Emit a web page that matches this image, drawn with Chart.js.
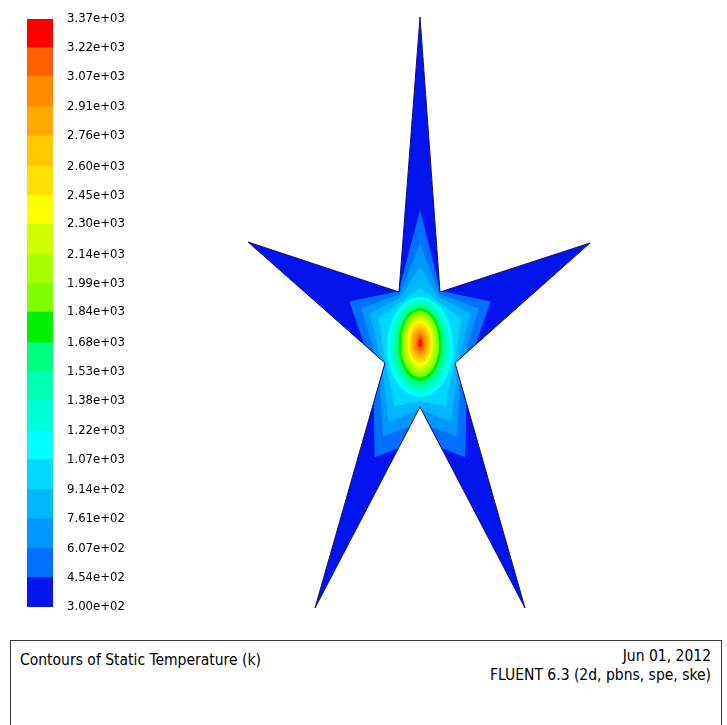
<!DOCTYPE html>
<html>
<head>
<meta charset="utf-8">
<script src="https://cdn.jsdelivr.net/npm/chart.js@4.4.1/dist/chart.umd.min.js"></script>
<style>
body{margin:0;background:#fff;width:727px;height:725px;overflow:hidden;position:relative;
  font-family:'DejaVu Sans Condensed','Liberation Sans Narrow','DejaVu Sans',sans-serif;color:#000}
#bar{position:absolute;left:27px;top:9px}
#plot{position:absolute;left:130px;top:0}
#info{position:absolute;left:10px;top:640px;width:712px;height:100px;border:1.5px solid #3a3a3a;box-sizing:border-box}
#title{position:absolute;left:9px;top:10px;font-size:15.5px}
#stamp{position:absolute;right:10px;top:6px;font-size:15.5px;text-align:right;line-height:19px}
</style>
</head>
<body>
<canvas id="bar" width="106" height="608"></canvas>
<canvas id="plot" width="597" height="630"></canvas>
<div id="info">
  <div id="title">Contours of Static Temperature (k)</div>
  <div id="stamp">Jun 01, 2012<br>FLUENT 6.3 (2d, pbns, spe, ske)</div>
</div>
<script>
// contour levels (K), bottom to top of the colour bar
var levels = [300, 454, 607, 761, 914, 1070, 1220, 1380, 1530, 1680, 1840,
              1990, 2140, 2300, 2450, 2600, 2760, 2910, 3070, 3220, 3370];
var tickLabels = ['3.00e+02','4.54e+02','6.07e+02','7.61e+02','9.14e+02','1.07e+03',
                  '1.22e+03','1.38e+03','1.53e+03','1.68e+03','1.84e+03','1.99e+03',
                  '2.14e+03','2.30e+03','2.45e+03','2.60e+03','2.76e+03','2.91e+03',
                  '3.07e+03','3.22e+03','3.37e+03'];
var bandColors = ['#0414ee','#0070ff','#0098ff','#00b8ff','#00d8ff','#00ffff',
                  '#00ffd8','#00ffb0','#00ff80','#00f000','#80ff00','#a8ff00',
                  '#d0ff00','#ffff00','#ffe000','#ffc800','#ffa800','#ff8c00',
                  '#ff6000','#ff0000'];

// star outline, px from the hot spot (y up): tip, notch, tip, notch ...
var starX = [0, 20, 170, 35, 105, 0, -105, -35, -172, -21];
var starY = [326, 51, 100, -20, -265, -64, -265, -20, 101, 51];

// outer contours: reach along each star vertex direction
var outerLevels = [454, 607, 761, 914];
var outerReach = [
  [133, 56, 82, 54, 123, 97, 123, 54, 82, 56],
  [100, 53, 68, 48, 100, 80, 100, 48, 68, 53],
  [76, 50, 58, 44, 85, 66, 85, 44, 58, 50],
  [55, 46, 48, 40, 68, 58, 68, 40, 48, 46]
];

// inner contours are near-elliptic rings round the hot spot
var innerLevels = [1070, 1220, 1380, 1530, 1680, 1840, 1990, 2140, 2300, 2450, 2600, 2760, 2910, 3070, 3220];
var ringHalfW   = [33, 30, 27, 24, 21.5, 19, 16.5, 14.5, 12.5, 11, 9.5, 8, 6, 4, 2];
var ringHalfH   = [50, 47, 43.5, 40, 36.5, 33, 29, 26, 23, 20, 17, 14, 11, 8, 4];
var ringShift   = [-4, -3, -2.5, -2, -1.5, -1, -1, -0.5, 0, 0, 0, 0, 0, 0, 0];

// colour bar
var barSets = [];
for (var i = 0; i < bandColors.length; i++) {
  barSets.push({data: [[levels[i], levels[i + 1]]], backgroundColor: bandColors[i],
    borderWidth: 0, barPercentage: 1, categoryPercentage: 1, grouped: false});
}
new Chart(document.getElementById('bar'), {
  type: 'bar',
  data: {labels: ['T'], datasets: barSets},
  options: {
    responsive: false, animation: false,
    layout: {padding: {top: 10, bottom: 10, left: 0, right: 0}},
    plugins: {legend: {display: false}, tooltip: {enabled: false}},
    scales: {
      x: {display: false},
      y: {
        position: 'right', min: 300, max: 3370,
        grid: {display: false, drawTicks: false}, border: {display: false},
        afterBuildTicks: function (s) { s.ticks = levels.map(function (v) { return {value: v}; }); },
        afterFit: function (s) { s.width = 80; s.paddingTop = 0; s.paddingBottom = 0; },
        ticks: {
          padding: 14, color: '#000',
          font: {family: "'DejaVu Sans Condensed','Liberation Sans Narrow','DejaVu Sans'", size: 13},
          callback: function (v, i) { return tickLabels[i]; }
        }
      }
    }
  }
});

// contour plot
function shape(pts, color, k) {
  pts.push(pts[0]);
  return {data: pts, showLine: true, fill: 'shape', backgroundColor: color,
    borderWidth: 0, pointRadius: 0, tension: 0, order: 100 - k};
}
var sets = [];
var star = [];
for (var i = 0; i < starX.length; i++) star.push({x: starX[i], y: starY[i]});
sets.push(shape(star, bandColors[0], 0));
for (var c = 0; c < outerLevels.length; c++) {
  var pts = [];
  for (var i = 0; i < starX.length; i++) {
    var r = Math.sqrt(starX[i] * starX[i] + starY[i] * starY[i]);
    pts.push({x: starX[i] / r * outerReach[c][i], y: starY[i] / r * outerReach[c][i]});
  }
  var k = levels.indexOf(outerLevels[c]);
  sets.push(shape(pts, bandColors[k], k));
}
for (var c = 0; c < innerLevels.length; c++) {
  var pts = [];
  for (var j = 0; j < 60; j++) {
    var t = j / 60 * 2 * Math.PI;
    pts.push({x: ringHalfW[c] * Math.cos(t), y: ringShift[c] + ringHalfH[c] * Math.sin(t)});
  }
  var k = levels.indexOf(innerLevels[c]);
  sets.push(shape(pts, bandColors[k], k));
}

var starClip = {
  id: 'starClip',
  starPath: function (chart) {
    var el = chart.getDatasetMeta(0).data, ctx = chart.ctx;
    ctx.beginPath();
    for (var i = 0; i < starX.length; i++) {
      if (i === 0) ctx.moveTo(el[i].x, el[i].y); else ctx.lineTo(el[i].x, el[i].y);
    }
    ctx.closePath();
  },
  beforeDraw: function (chart) {
    chart.ctx.save();
    this.starPath(chart);
    chart.ctx.clip();
  },
  afterDraw: function (chart) {
    var ctx = chart.ctx;
    ctx.restore();
    this.starPath(chart);
    ctx.strokeStyle = '#0a0a60';
    ctx.lineWidth = 1;
    ctx.stroke();
  }
};

new Chart(document.getElementById('plot'), {
  type: 'scatter',
  data: {datasets: sets},
  options: {
    responsive: false, animation: false,
    layout: {padding: 0},
    plugins: {legend: {display: false}, tooltip: {enabled: false}},
    scales: {
      x: {type: 'linear', display: false, min: -290, max: 307},
      y: {type: 'linear', display: false, min: -287, max: 343}
    }
  },
  plugins: [starClip]
});
</script>
</body>
</html>
